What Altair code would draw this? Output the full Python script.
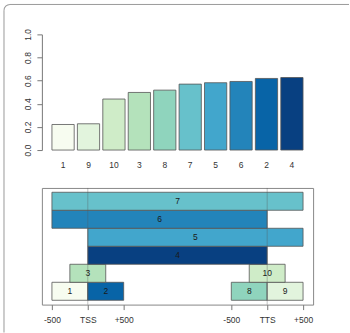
import altair as alt
import pandas as pd
import math

# ---- data ----
bar_labels = ["1", "9", "10", "3", "8", "7", "5", "6", "2", "4"]
bar_values = [0.221, 0.227, 0.441, 0.498, 0.518, 0.570, 0.582, 0.593, 0.619, 0.627]
bar_colors = ["#f7fcf0", "#e2f4dd", "#cfecc8", "#b4e2bb", "#8fd4bd",
              "#67c1cb", "#42a6cc", "#2384ba", "#0864a7", "#084081"]

seg_labels = ["1", "2", "8", "9", "3", "10", "4", "5", "6", "7"]
seg_start = [0, 1, 5, 6, 0.5, 5.5, 1, 1, 0, 0]
seg_end = [1, 2, 6, 7, 1.5, 6.5, 6, 7, 6, 7]
seg_row = [0, 0, 0, 0, 1, 1, 2, 3, 4, 5]

tick_pos = [0, 1, 2, 5, 6, 7]
tick_text = ["-500", "TSS", "+500", "-500", "TTS", "+500"]
guide_pos = [1, 6]

FONT = "Liberation Sans"
TXT = "#333333"
FS = 8.5
FRAME = "#9a9a9a"

color_scale = alt.Scale(domain=bar_labels, range=bar_colors)

# ---- top bar chart ----
bars_df = pd.DataFrame({"label": bar_labels, "value": bar_values})

bars = alt.Chart(bars_df).mark_bar(stroke="#555555", strokeWidth=0.8).encode(
    x=alt.X("label:N", sort=None, title=None,
            scale=alt.Scale(paddingInner=0.125, paddingOuter=0.396),
            axis=alt.Axis(domain=False, ticks=False, tickSize=0, labelAngle=0,
                          labelPadding=11, labelFont=FONT, labelFontSize=FS,
                          labelColor=TXT)),
    y=alt.Y("value:Q", title=None,
            scale=alt.Scale(domain=[0, 1], nice=False, zero=True),
            axis=alt.Axis(values=[0, 0.2, 0.4, 0.6, 0.8, 1.0], format=".1f",
                          grid=False, domainColor="#777777", tickColor="#777777",
                          tickSize=5, labelAngle=-90, labelAlign="center",
                          labelBaseline="middle", labelPadding=9,
                          labelFont=FONT, labelFontSize=FS, labelColor=TXT)),
    color=alt.Color("label:N", scale=color_scale, legend=None),
)

one = pd.DataFrame({"a": [0]})
frame_top = alt.Chart(one).mark_rule(color=FRAME, strokeWidth=1, clip=False).encode(
    x=alt.value(-32), x2=alt.value(308), y=alt.value(-30)
)
frame_left = alt.Chart(one).mark_rule(color=FRAME, strokeWidth=1, clip=False).encode(
    x=alt.value(-38), y=alt.value(-24), y2=alt.value(299)
)
frame_corner = alt.Chart(one).mark_arc(
    color=FRAME, radius=6.5, radius2=5.5,
    theta=1.5 * math.pi, theta2=2 * math.pi, clip=False
).encode(x=alt.value(-32), y=alt.value(-24))

top = alt.layer(frame_top, frame_left, frame_corner, bars).properties(
    width=272, height=116, view=alt.ViewBackground(stroke=None)
)

# ---- bottom segment chart ----
seg_df = pd.DataFrame({
    "label": seg_labels, "start": seg_start, "end": seg_end,
    "row": seg_row, "row1": [r + 1 for r in seg_row],
    "mid": [(a + b) / 2 for a, b in zip(seg_start, seg_end)],
    "rmid": [r + 0.5 for r in seg_row],
})

xs = alt.Scale(domain=[-0.28, 7.28], nice=False, zero=False)
ys = alt.Scale(domain=[-0.24, 6.24], nice=False, zero=False)

label_expr = " : ".join(
    [f"datum.value == {p} ? '{t}'" for p, t in zip(tick_pos, tick_text)]
) + " : ''"

rects = alt.Chart(seg_df).mark_rect(stroke="#555555", strokeWidth=0.8).encode(
    x=alt.X("start:Q", scale=xs, title=None,
            axis=alt.Axis(values=tick_pos, labelExpr=label_expr, grid=False,
                          domain=False, tickColor="#777777", tickSize=5,
                          labelPadding=6, labelFont=FONT, labelFontSize=FS,
                          labelColor=TXT, labelFlush=False)),
    x2="end:Q",
    y=alt.Y("row:Q", scale=ys, axis=None),
    y2="row1:Q",
    color=alt.Color("label:N", scale=color_scale, legend=None),
)

texts = alt.Chart(seg_df).mark_text(font=FONT, fontSize=FS, color="#1a1a1a").encode(
    x=alt.X("mid:Q", scale=xs),
    y=alt.Y("rmid:Q", scale=ys),
    text="label:N",
)

guides = alt.Chart(pd.DataFrame({"g": guide_pos})).mark_rule(
    color="#555555", strokeWidth=0.6, opacity=0.6
).encode(
    x=alt.X("g:Q", scale=xs),
    y=alt.value(0), y2=alt.value(117),
)

bottom = alt.layer(rects, guides, texts).properties(
    width=272, height=117,
    view=alt.ViewBackground(stroke="#888888", strokeWidth=1),
)

chart = alt.vconcat(top, bottom, spacing=38, bounds="flush").properties(
    padding={"left": 3, "top": 3, "right": 0, "bottom": 0}
).configure(background="white")

chart.save("out.html", embed_options={"renderer": "svg", "actions": False})
